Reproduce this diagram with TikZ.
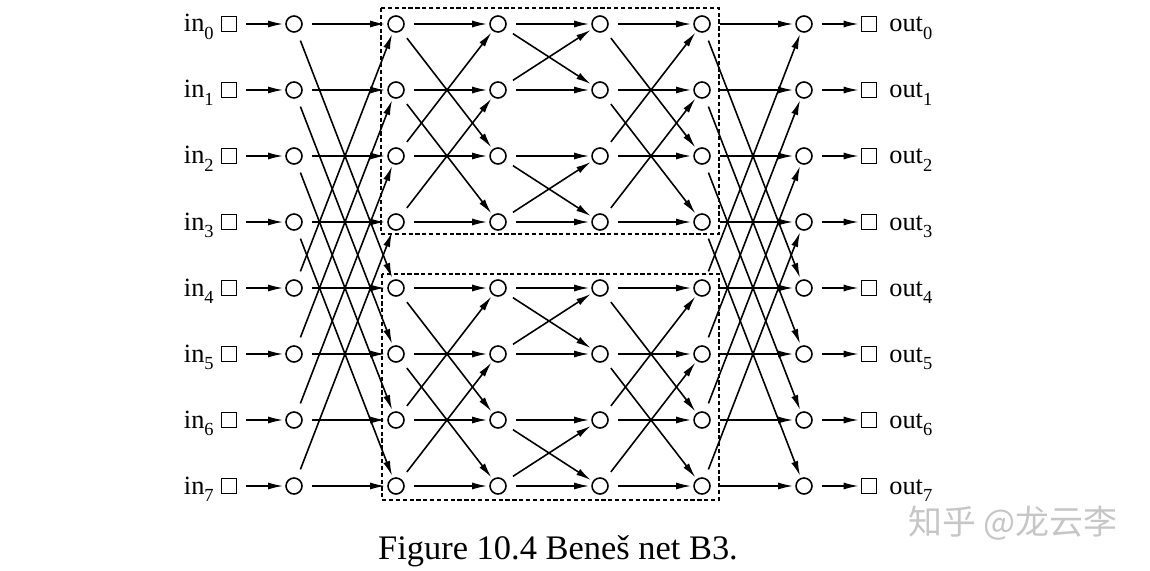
\documentclass[tikz,border=0pt]{standalone}
\usepackage{fontspec}
\setmainfont{Liberation Serif}
\newfontfamily\cjkfont{Noto Sans CJK SC}
\usetikzlibrary{arrows.meta}
\newcommand{\portsub}[1]{\raisebox{-0.3em}{\fontsize{10.5}{12}\selectfont #1}}
\tikzset{
  sw/.style={circle,draw,line width=0.9pt,minimum size=0.32cm,inner sep=0pt},
  port/.style={rectangle,draw,line width=0.9pt,minimum size=0.3cm,inner sep=0pt},
  link/.style={-{Latex[length=0.3cm,width=0.14cm]},line width=0.9pt,
    shorten <=0.18cm,shorten >=0.04cm},
  subnet/.style={line width=0.6pt,dash pattern=on 2.4pt off 1.5pt},
  lbl/.style={inner sep=0pt,font=\fontsize{15}{18}\selectfont},
  caption/.style={inner sep=0pt,font=\fontsize{19.6}{23}\selectfont},
  watermark/.style={inner sep=0pt,text=gray!45,font=\cjkfont\fontsize{19.3}{23}\selectfont}
}
\begin{document}
\begin{tikzpicture}[x=0.02cm,y=-0.02cm]
  \useasboundingbox (0,0) rectangle (1150,571);
  % the two B2 subnetworks
  \draw[subnet] (381,8) rectangle (719,234);
  \draw[subnet] (382,274) rectangle (719,500);
  % ports, labels and switches
  \foreach \r [evaluate=\r as \y using 24+66*\r] in {0,...,7} {
    \node[port] (in-\r) at (229,\y) {};
    \node[port] (out-\r) at (869,\y) {};
    \node[lbl,anchor=base east] (lin-\r) at (214,\y+8) {in\portsub{\r}};
    \node[lbl,anchor=base west] (lout-\r) at (889,\y+8) {out\portsub{\r}};
    \foreach \c/\x in {1/294,2/396,3/498,4/600,5/702,6/804}
      \node[sw] (n\c-\r) at (\x,\y) {};
  }
  % links: straight and crossed (stride 4, 2, 1, 2, 4)
  \foreach \r/\a/\b/\c in {0/4/2/1,1/5/3/0,2/6/0/3,3/7/1/2,4/0/6/5,5/1/7/4,6/2/4/7,7/3/5/6} {
    \draw[link] (in-\r) -- (n1-\r);
    \draw[link] (n1-\r) -- (n2-\r);
    \draw[link] (n1-\r) -- (n2-\a);
    \draw[link] (n2-\r) -- (n3-\r);
    \draw[link] (n2-\r) -- (n3-\b);
    \draw[link] (n3-\r) -- (n4-\r);
    \draw[link] (n3-\r) -- (n4-\c);
    \draw[link] (n4-\r) -- (n5-\r);
    \draw[link] (n4-\r) -- (n5-\b);
    \draw[link] (n5-\r) -- (n6-\r);
    \draw[link] (n5-\r) -- (n6-\a);
    \draw[link] (n6-\r) -- (out-\r);
  }
  \node[caption,anchor=base] (cap) at (558,559) {Figure 10.4 Beneš net B3.};
  \node[watermark] (mark) at (1013,523) {知乎 @龙云李};
\end{tikzpicture}
\end{document}
